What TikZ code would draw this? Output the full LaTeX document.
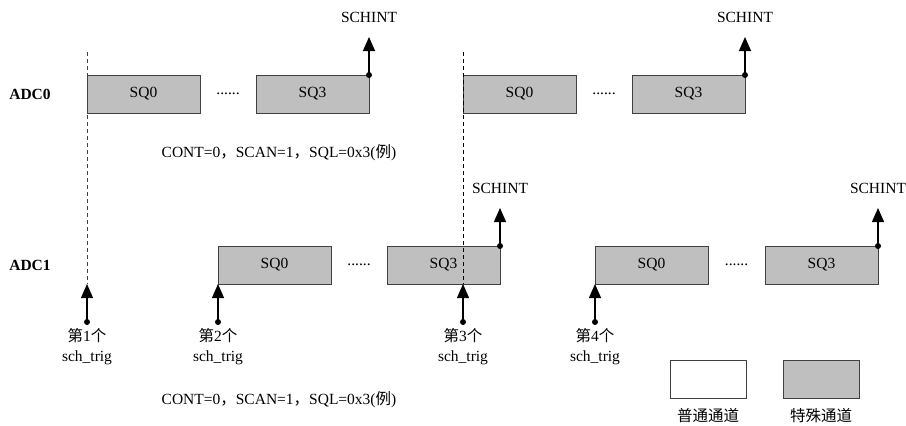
\documentclass[tikz,border=0pt]{standalone}
\usepackage{fontspec}
\setmainfont{Liberation Serif}
\newfontfamily\cjk{Noto Sans CJK SC}
\usetikzlibrary{arrows.meta, positioning}

\begin{document}
\begin{tikzpicture}[
      x=1pt, y=-1pt,
      font=\fontsize{15.5}{20}\selectfont,
      sq/.style={rectangle, draw=black!75, line width=1pt, fill=gray!50,
                 minimum width=113pt, minimum height=38pt,
                 inner sep=0pt, outer sep=0pt},
      legbox/.style={sq, minimum width=76pt},
      legtxt/.style={font=\fontsize{15.5}{20}\selectfont\cjk, inner sep=0.5pt},
      adc/.style={font=\fontsize{15.5}{20}\selectfont\bfseries},
      dot/.style={circle, fill, inner sep=0pt, minimum size=6pt},
      trig/.style={align=center, inner sep=1pt},
      up/.style={draw, line width=1.2pt, -{Triangle[length=14pt, width=12pt]}},
      mark line/.style={draw, black!75, line width=0.8pt,
                        dash pattern=on 4pt off 3pt}
  ]
      \useasboundingbox (0,0) rectangle (906,426);

      % ADC0
      \node[adc] (adc0) at (30,94) {ADC0};
      \node[sq, anchor=north west] (a0s0) at (87,75) {SQ0};
      \node[sq, right=56pt of a0s0] (a0s3) {SQ3};
      \path (a0s0.east) -- node {......} (a0s3.west);
      \node[sq, anchor=north west] (a0t0) at (463,75) {SQ0};
      \node[sq, right=56pt of a0t0] (a0t3) {SQ3};
      \path (a0t0.east) -- node {......} (a0t3.west);

      \node[above=49pt of a0s3.north east] (int0) {SCHINT};
      \node[dot] (d0) at (a0s3.north east) {};
      \draw[up] (d0.center) -- ([yshift=-11pt]int0.south);
      \node[above=49pt of a0t3.north east] (int1) {SCHINT};
      \node[dot] (d1) at (a0t3.north east) {};
      \draw[up] (d1.center) -- ([yshift=-11pt]int1.south);

      \node (cfg0) at (279,153) {CONT=0{\cjk ，}SCAN=1{\cjk ，}SQL=0x3({\cjk 例})};

      % ADC1
      \node[adc] (adc1) at (30,265) {ADC1};
      \node[sq, anchor=north west] (a1s0) at (218,246) {SQ0};
      \node[sq, right=56pt of a1s0] (a1s3) {SQ3};
      \path (a1s0.east) -- node {......} (a1s3.west);
      \node[sq, anchor=north west] (a1t0) at (595,246) {SQ0};
      \node[sq, right=57pt of a1t0] (a1t3) {SQ3};
      \path (a1t0.east) -- node {......} (a1t3.west);

      \node[above=49pt of a1s3.north east] (int2) {SCHINT};
      \node[dot] (d2) at (a1s3.north east) {};
      \draw[up] (d2.center) -- ([yshift=-11pt]int2.south);
      \node[above=49pt of a1t3.north east] (int3) {SCHINT};
      \node[dot] (d3) at (a1t3.north east) {};
      \draw[up] (d3.center) -- ([yshift=-11pt]int3.south);

      \node (cfg1) at (279,400) {CONT=0{\cjk ，}SCAN=1{\cjk ，}SQL=0x3({\cjk 例})};

      % sch_trig
      \node[dot] (g1) at (87,322) {};
      \node[dot] (g2) at (218,322) {};
      \node[dot] (g3) at (463,322) {};
      \node[dot] (g4) at (595,322) {};
      \node[trig, below=2pt of g1] (g1txt) {{\cjk 第}1{\cjk 个}\\sch\_trig};
      \node[trig, below=2pt of g2] (g2txt) {{\cjk 第}2{\cjk 个}\\sch\_trig};
      \node[trig, below=2pt of g3] (g3txt) {{\cjk 第}3{\cjk 个}\\sch\_trig};
      \node[trig, below=2pt of g4] (g4txt) {{\cjk 第}4{\cjk 个}\\sch\_trig};

      \coordinate (tip1) at (g1 |- a1s0.south);
      \coordinate (tip3) at (g3 |- a1s3.south);
      \draw[up] (g1.center) -- (tip1);
      \draw[up] (g2.center) -- (a1s0.south west);
      \draw[up] (g3.center) -- (tip3);
      \draw[up] (g4.center) -- (a1t0.south west);

      % trigger marks
      \coordinate (top1) at (87,52);
      \coordinate (top3) at (463,52);
      \draw[mark line] (top1) -- (tip1);
      \draw[mark line, black] (top3) -- (tip3);

      % legend
      \node[legbox, fill=white, anchor=north west] (plain) at (670,360) {};
      \node[legbox, anchor=north west] (special) at (783,360) {};
      \node[legtxt, below=10pt of plain] (plaintxt) {普通通道};
      \node[legtxt, below=10pt of special] (specialtxt) {特殊通道};
  \end{tikzpicture}
\end{document}
